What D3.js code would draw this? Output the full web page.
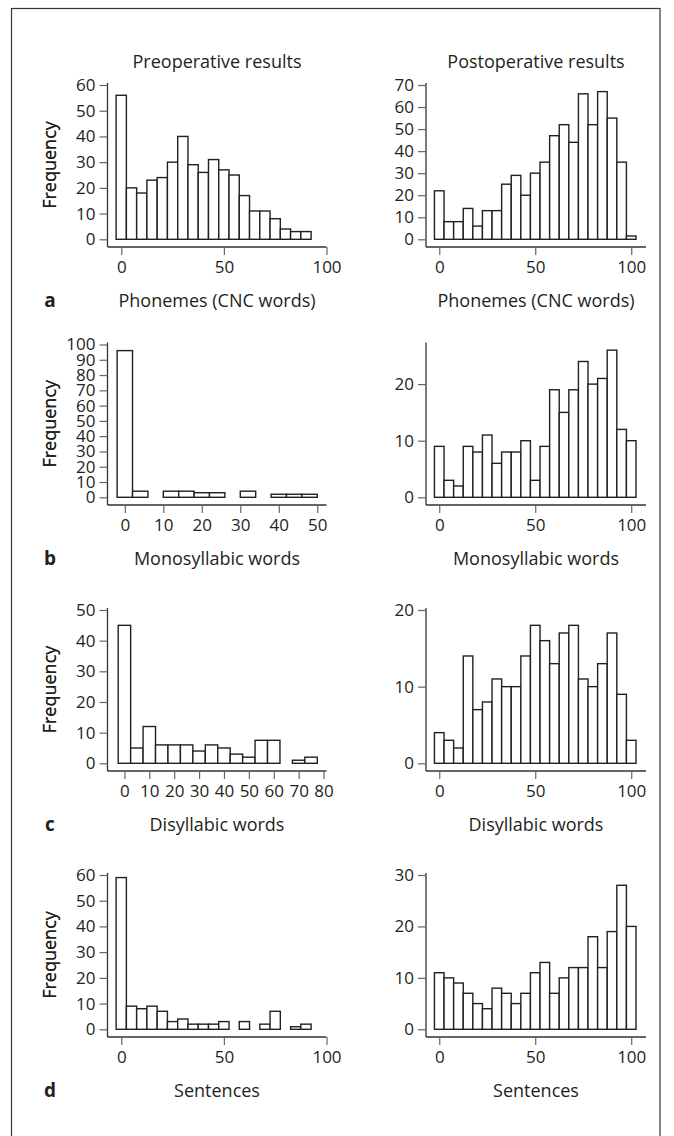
<!DOCTYPE html>
<html>
<head>
<meta charset="utf-8">
<script src="https://cdn.jsdelivr.net/npm/d3@7"></script>
<style>
  body { margin: 0; background: #fff; }
  text { font-family: "Open Sans", sans-serif; fill: #231f20; }
</style>
</head>
<body>
<div id="main-content"></div>
<script>
// bin centres (x) and frequencies
const bins5to90  = [0,5,10,15,20,25,30,35,40,45,50,55,60,65,70,75,80,85,90];
const bins5to100 = [0,5,10,15,20,25,30,35,40,45,50,55,60,65,70,75,80,85,90,95,100];
const bins4to48  = [0,4,8,12,16,20,24,28,32,36,40,44,48];
const bins5to75  = [0,5,10,15,20,25,30,35,40,45,50,55,60,65,70,75];

const phonemesPre  = [56,20,18,23,24,30,40,29,26,31,27,25,17,11,11,8,4,3,3];
const phonemesPost = [22,8,8,14,6,13,13,25,29,20,30,35,47,52,44,66,52,67,55,35,1.5];
const monoPre      = [96,4,0,4,4,3,3,0,4,0,2,2,2];
const monoPost     = [9,3,2,9,8,11,6,8,8,10,3,9,19,15,19,24,20,21,26,12,10];
const disPre       = [45,5,12,6,6,6,4,6,5,3,2,7.5,7.5,0,1,2];
const disPost      = [4,3,2,14,7,8,11,10,10,14,18,16,13,17,18,11,10,13,17,9,3];
const sentPre      = [59,9,8,9,7,3,4,2,2,2,3,0,3,0,2,7,0,1,2];
const sentPost     = [11,10,9,7,5,4,8,7,5,7,11,13,7,10,12,12,18,12,19,28,20];

// tick labels
const xTicks100 = [0,50,100];
const xTicks50  = [0,10,20,30,40,50];
const xTicks80  = [0,10,20,30,40,50,60,70,80];
const yTicksA   = [0,10,20,30,40,50,60];
const yTicksA2  = [0,10,20,30,40,50,60,70];
const yTicksB   = [0,10,20,30,40,50,60,70,80,90,100];
const yTicksB2  = [0,10,20];
const yTicksC   = [0,10,20,30,40,50];
const yTicksC2  = [0,10,20];
const yTicksD   = [0,10,20,30,40,50,60];
const yTicksD2  = [0,10,20,30];

const titles    = ["Preoperative results", "Postoperative results"];
const rowLabels = ["a", "b", "c", "d"];
const xTitles   = ["Phonemes (CNC words)", "Monosyllabic words", "Disyllabic words", "Sentences"];

const panels = [
  {row: 0, col: 0, bins: bins5to90,  counts: phonemesPre,  w: 5, xd: [-6.7, 100],   xt: xTicks100, yTop: 60,  yt: yTicksA},
  {row: 0, col: 1, bins: bins5to100, counts: phonemesPost, w: 5, xd: [-6.9, 107.7], xt: xTicks100, yTop: 70,  yt: yTicksA2},
  {row: 1, col: 0, bins: bins4to48,  counts: monoPre,      w: 4, xd: [-4.5, 52.4],  xt: xTicks50,  yTop: 100, yt: yTicksB},
  {row: 1, col: 1, bins: bins5to100, counts: monoPost,     w: 5, xd: [-6.9, 107.7], xt: xTicks100, yTop: 27,  yt: yTicksB2},
  {row: 2, col: 0, bins: bins5to75,  counts: disPre,       w: 5, xd: [-6.8, 81.2],  xt: xTicks80,  yTop: 50,  yt: yTicksC},
  {row: 2, col: 1, bins: bins5to100, counts: disPost,      w: 5, xd: [-6.9, 107.7], xt: xTicks100, yTop: 20,  yt: yTicksC2},
  {row: 3, col: 0, bins: bins5to90,  counts: sentPre,      w: 5, xd: [-6.7, 100],   xt: xTicks100, yTop: 60,  yt: yTicksD},
  {row: 3, col: 1, bins: bins5to100, counts: sentPost,     w: 5, xd: [-6.9, 107.7], xt: xTicks100, yTop: 30,  yt: yTicksD2}
];

const width = 674, height = 1136;
const colX0 = [107.5, 426];          // y axis
const colX1 = [326.5, 646];          // right end of x axis
const rowY1 = [247, 505, 771, 1037]; // x axis
const rowY0 = [83, 342.5, 608, 873]; // top of y axis

const svg = d3.select("#main-content")
  .append("svg")
  .attr("width", width)
  .attr("height", height);

// outer frame
svg.append("rect")
  .attr("x", 11.5).attr("y", 8.5)
  .attr("width", 648.5).attr("height", 1150)
  .attr("fill", "none")
  .attr("stroke", "#333")
  .attr("stroke-width", 1.2);

panels.forEach(p => {
  const x0 = colX0[p.col], x1 = colX1[p.col];
  const y0 = rowY0[p.row], y1 = rowY1[p.row];

  const x = d3.scaleLinear().domain(p.xd).range([x0, x1]);
  const y = d3.scaleLinear().domain([0, p.yTop]).range([y1 - 7.7, y0 + 2]);

  const g = svg.append("g");

  // bars
  g.selectAll("rect")
    .data(p.bins.map((b, i) => ({b: b, n: p.counts[i]})))
    .enter()
    .append("rect")
    .attr("x", d => x(d.b - p.w / 2))
    .attr("width", d => x(d.b + p.w / 2) - x(d.b - p.w / 2))
    .attr("y", d => y(d.n))
    .attr("height", d => y(0) - y(d.n))
    .attr("fill", "white")
    .attr("stroke", "#231f20")
    .attr("stroke-width", 1.4);

  // x axis
  const xAxis = g.append("g")
    .attr("transform", `translate(0,${y1})`)
    .call(d3.axisBottom(x).tickValues(p.xt).tickSize(8).tickPadding(6).tickSizeOuter(0));
  xAxis.select(".domain").attr("d", `M${x0},0H${x1}`);

  // y axis
  const yAxis = g.append("g")
    .attr("transform", `translate(${x0},0)`)
    .call(d3.axisLeft(y).tickValues(p.yt).tickSize(8).tickPadding(4).tickSizeOuter(0));
  yAxis.select(".domain").attr("d", `M0,${y1}V${y0}`);

  g.selectAll(".domain").attr("stroke", "#333").attr("stroke-width", 1.3);
  g.selectAll(".tick line").attr("stroke", "#666").attr("stroke-width", 1.2);
  g.selectAll(".tick text")
    .style("font-family", '"Open Sans", sans-serif')
    .style("font-size", "17px")
    .attr("fill", "#231f20");

  // y title
  g.append("text")
    .attr("transform", `translate(56,${(y0 + y1) / 2}) rotate(-90)`)
    .attr("text-anchor", "middle")
    .style("font-size", "18px")
    .text("Frequency");

  // x title
  g.append("text")
    .attr("x", (x0 + x1) / 2)
    .attr("y", y1 + 60)
    .attr("text-anchor", "middle")
    .style("font-size", "18px")
    .text(xTitles[p.row]);
});

// column titles
titles.forEach((t, i) => {
  svg.append("text")
    .attr("x", (colX0[i] + colX1[i]) / 2)
    .attr("y", 68)
    .attr("text-anchor", "middle")
    .style("font-size", "18px")
    .text(t);
});

// panel letters
rowLabels.forEach((l, i) => {
  svg.append("text")
    .attr("x", 50)
    .attr("y", rowY1[i] + 60)
    .attr("text-anchor", "middle")
    .style("font-size", "19px")
    .style("font-weight", "bold")
    .text(l);
});
</script>
</body>
</html>
